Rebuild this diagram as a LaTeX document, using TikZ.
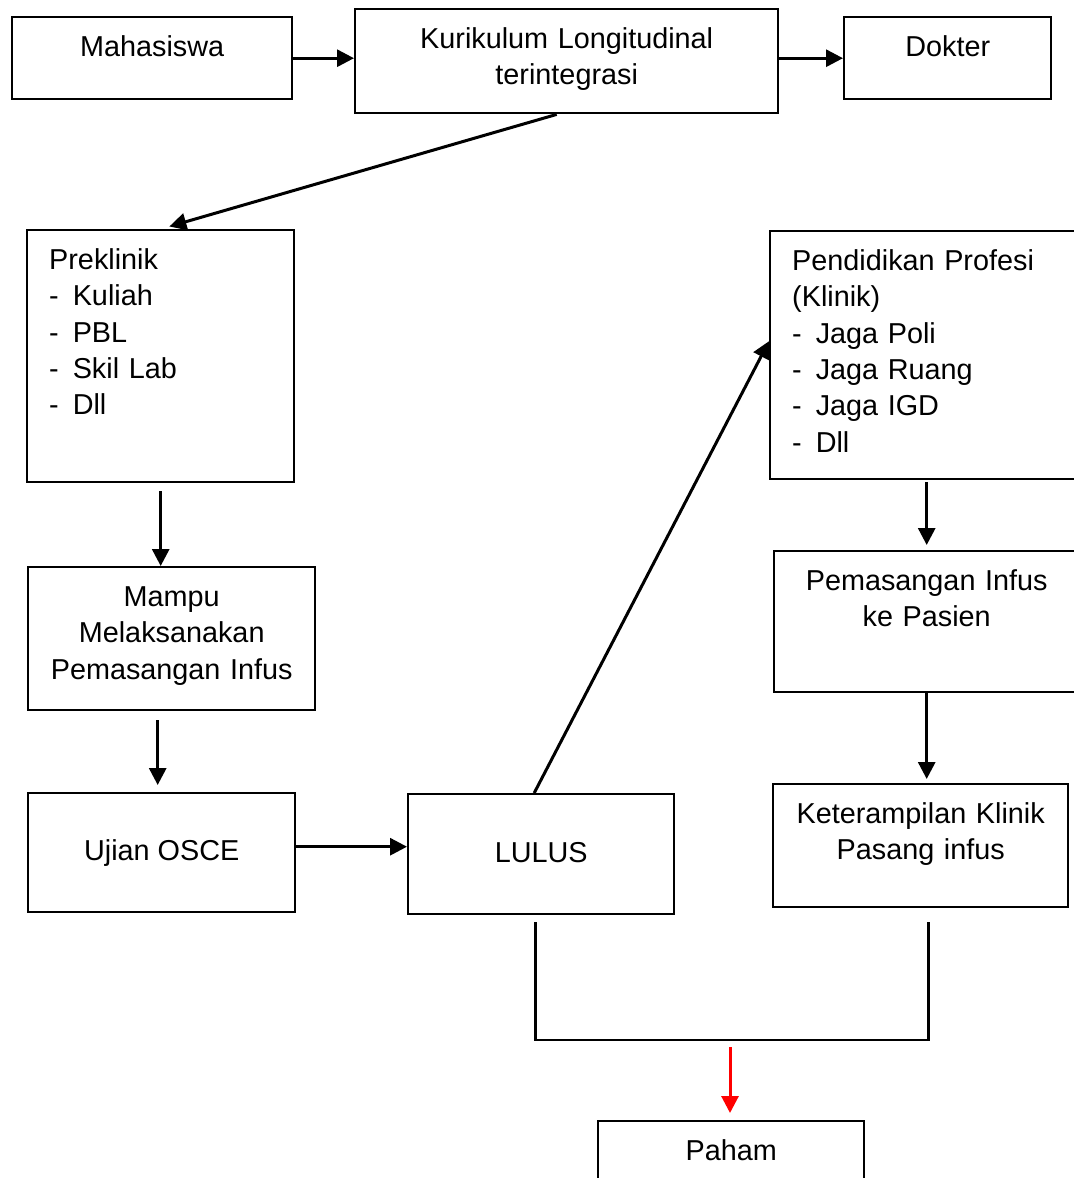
\documentclass[tikz,border=0pt]{standalone}
\usepackage{fontspec}
\setmainfont{Liberation Sans}
\usetikzlibrary{arrows.meta}
\begin{document}
\begin{tikzpicture}
		[x=0.5pt,y=-0.5pt,
		every node/.style={font=\fontsize{14.4}{18.2}\selectfont},
		box/.style 2 args={draw,line width=1.2pt,anchor=north west,inner ysep=4pt,
inner xsep=2pt,align=center,text width=#1,text height=15.5pt,text depth=#2},
		listbox/.style 2 args={box={#1}{#2},inner xsep=11pt,align=left},
		midbox/.style 2 args={draw,line width=1.2pt,anchor=north west,inner sep=0pt,
minimum width=#1,minimum height=#2},
		arrowstyle/.style={-{Triangle[length=8.5pt,width=8.5pt]},line width=1.5pt}]
		\clip (0,0) rectangle (1074,1178);
		% top row
		\node at (11,16) (mhs) [box={136pt}{17.5pt}] {Mahasiswa};
		\node at (354,8) (kur) [box={207.5pt}{28.5pt}] {Kurikulum Longitudinal\\terintegrasi};
		\node at (843,16) (dok) [box={99.5pt}{17.5pt}] {Dokter};
		% left column
		\node at (26,229) (pre) [listbox={111.5pt}{102.5pt}] {Preklinik\\-\hspace{7pt}Kuliah\\-\hspace{7pt}PBL\\-\hspace{7pt}Skil Lab\\-\hspace{7pt}Dll};
		\node at (27,566) (mampu) [box={139.5pt}{48pt}] {Mampu\\Melaksanakan\\Pemasangan Infus};
		\node at (27,792) (ujian) [midbox={133.5pt}{59.5pt}] {Ujian OSCE};
		\node at (407,793) (lulus) [midbox={133pt}{60pt}] {\raisebox{2pt}{LULUS}};
		% right column
		\node at (769,230) (pend) [listbox={133.5pt}{100.5pt}] {Pendidikan Profesi\\(Klinik)\\-\hspace{7pt}Jaga Poli\\-\hspace{7pt}Jaga Ruang\\-\hspace{7pt}Jaga IGD\\-\hspace{7pt}Dll};
		\node at (773,550) (pem) [box={148.5pt}{47pt}] {Pemasangan Infus\\ke Pasien};
		\node at (772,783) (ket) [box={143.5pt}{38pt}] {Keterampilan Klinik\\Pasang infus};
		\node at (597,1120) (paham) [box={129pt}{16.5pt}] {Paham};
		\coordinate (join) at (730,1040);
		% connectors
		\draw[arrowstyle] (mhs.east) -- (mhs.east -| kur.west);
		\draw[arrowstyle] (kur.east |- dok.west) -- (dok.west);
		\draw[arrowstyle,shorten >=4.5pt] ([xshift=-5pt]kur.south) -- (pre.north);
		\draw[arrowstyle,shorten <=4pt] (pre.south) -- (mampu.north -| pre.south);
		\draw[arrowstyle,shorten <=4.5pt,shorten >=3.5pt] ([xshift=-2pt]mampu.south -| ujian.north) -- ([xshift=-2pt]ujian.north);
		\draw[arrowstyle] ([yshift=3pt]ujian.east) -- ([yshift=3pt]ujian.east -| lulus.west);
		\draw[arrowstyle] ([xshift=-3.5pt]lulus.north) -- ([yshift=7pt]pend.west);
		\draw[arrowstyle,shorten <=1pt,shorten >=2.5pt] (pem.north |- pend.south) -- (pem.north);
		\draw[arrowstyle,shorten >=2pt] (pem.south) -- (pem.south |- ket.north);
		\draw[line width=1.4pt] ([xshift=-3pt,yshift=-3.5pt]lulus.south) |- (join) -| ([xshift=4pt,yshift=-7pt]ket.south);
		\draw[arrowstyle,red,shorten <=3.5pt,shorten >=3.5pt] (join) -- (join |- paham.north);
	\end{tikzpicture}
\end{document}
